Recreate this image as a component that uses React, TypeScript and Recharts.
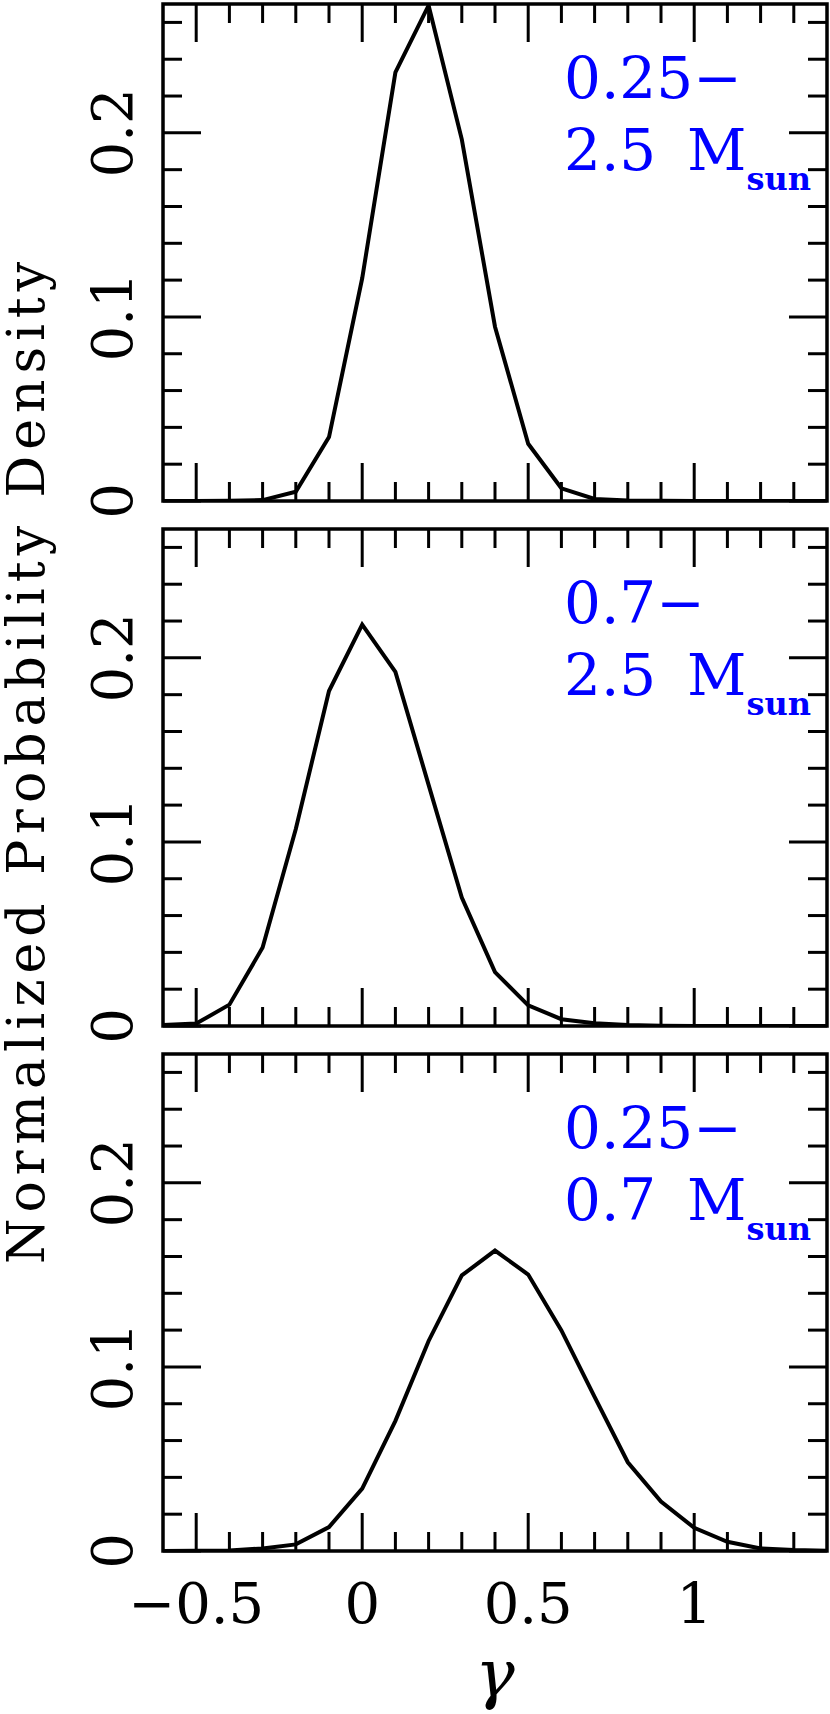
import React from "react";
import { LineChart, Line, XAxis, YAxis, ReferenceArea } from "recharts";

// gamma grid of the three curves
const gamma = [
  -0.6, -0.5, -0.4, -0.3, -0.2, -0.1, 0, 0.1, 0.2, 0.3, 0.4, 0.5, 0.6, 0.7,
  0.8, 0.9, 1.0, 1.1, 1.2, 1.3, 1.4,
];

// normalized probability density, one array per mass range
const density025to25 = [
  0, 0, 0.0001, 0.0005, 0.005, 0.0347, 0.121, 0.2328, 0.2692, 0.1965, 0.0947,
  0.0311, 0.0069, 0.0011, 0.0003, 0.0001, 0, 0, 0, 0, 0,
];
const density07to25 = [
  0.0006, 0.0013, 0.0116, 0.0426, 0.107, 0.182, 0.218, 0.1924, 0.131, 0.0698,
  0.0293, 0.0112, 0.0037, 0.0015, 0.0005, 0.0001, 0, 0, 0, 0, 0,
];
const density025to07 = [
  0, 0.0001, 0.0003, 0.0014, 0.0036, 0.013, 0.0339, 0.0707, 0.1141, 0.1497,
  0.1632, 0.1502, 0.1198, 0.0837, 0.0482, 0.0269, 0.0126, 0.005, 0.0014,
  0.0005, 0.0001,
];

const gammaTicks = [
  -0.5, -0.4, -0.3, -0.2, -0.1, 0, 0.1, 0.2, 0.3, 0.4, 0.5, 0.6, 0.7, 0.8, 0.9,
  1.0, 1.1, 1.2, 1.3,
];
const gammaMajorTicks = [-0.5, 0, 0.5, 1];
const gammaTickLabels = ["\u22120.5", "0", "0.5", "1"];

const densityTicks = [
  0, 0.02, 0.04, 0.06, 0.08, 0.1, 0.12, 0.14, 0.16, 0.18, 0.2, 0.22, 0.24, 0.26,
];
const densityMajorTicks = [0, 0.1, 0.2];
const densityTickLabels = ["0", "0.1", "0.2"];

const rangeLow = ["0.25\u2212", "0.7\u2212", "0.25\u2212"];
const rangeHigh = ["2.5", "2.5", "0.7"];

const PLOT_H = 497;
const PLOT_W = 664;
const AXIS_SIZE = 10;
const FONT = "'DejaVu Serif', serif";

const majorIndex = (v: number, majors: number[]) =>
  majors.findIndex((m) => Math.abs(m - v) < 1e-9);

function GammaTick(props: any) {
  const { x, y, payload, showLabel } = props;
  const idx = majorIndex(payload.value, gammaMajorTicks);
  const len = idx >= 0 ? 38 : 19;
  return (
    <g>
      <line x1={x} y1={y} x2={x} y2={y - len} stroke="#000" strokeWidth={3} />
      <line
        x1={x}
        y1={y - PLOT_H}
        x2={x}
        y2={y - PLOT_H + len}
        stroke="#000"
        strokeWidth={3}
      />
      {showLabel && idx >= 0 && (
        <text
          x={x}
          y={y + 72}
          textAnchor="middle"
          fontFamily={FONT}
          fontSize={56}
          fill="#000"
        >
          {gammaTickLabels[idx]}
        </text>
      )}
    </g>
  );
}

function DensityTick(props: any) {
  const { x, y, payload } = props;
  const idx = majorIndex(payload.value, densityMajorTicks);
  const len = idx >= 0 ? 38 : 19;
  return (
    <g>
      <line x1={x} y1={y} x2={x + len} y2={y} stroke="#000" strokeWidth={3} />
      <line
        x1={x + PLOT_W}
        y1={y}
        x2={x + PLOT_W - len}
        y2={y}
        stroke="#000"
        strokeWidth={3}
      />
      {idx >= 0 && (
        <text
          transform={`translate(${x - 31}, ${y}) rotate(-90)`}
          textAnchor="middle"
          fontFamily={FONT}
          fontSize={56}
          fill="#000"
        >
          {densityTickLabels[idx]}
        </text>
      )}
    </g>
  );
}

interface PanelProps {
  values: number[];
  top: number;
  marginTop: number;
  marginBottom: number;
  showX: boolean;
}

function Panel({ values, top, marginTop, marginBottom, showX }: PanelProps) {
  const data = gamma.map((g, i) => ({ g, p: values[i] }));
  return (
    <div style={{ position: "absolute", left: 0, top: top - marginTop }}>
      <LineChart
        width={830}
        height={marginTop + PLOT_H + marginBottom}
        data={data}
        style={{ overflow: "visible" }}
        margin={{
          top: marginTop,
          right: 3,
          bottom: marginBottom - AXIS_SIZE,
          left: 163 - AXIS_SIZE,
        }}
      >
        <XAxis
          dataKey="g"
          type="number"
          domain={[-0.6, 1.4]}
          ticks={gammaTicks}
          interval={0}
          height={AXIS_SIZE}
          axisLine={false}
          tickLine={false}
          tickSize={0}
          tickMargin={0}
          allowDataOverflow
          tick={(p: any) => <GammaTick {...p} showLabel={showX} />}
        />
        <YAxis
          type="number"
          domain={[0, 0.27]}
          ticks={densityTicks}
          interval={0}
          width={AXIS_SIZE}
          axisLine={false}
          tickLine={false}
          tickSize={0}
          tickMargin={0}
          allowDataOverflow
          tick={(p: any) => <DensityTick {...p} />}
        />
        <ReferenceArea
          x1={-0.6}
          x2={1.4}
          y1={0}
          y2={0.27}
          fill="#fff"
          fillOpacity={0}
          stroke="#000"
          strokeWidth={3.5}
        />
        <Line
          dataKey="p"
          type="linear"
          stroke="#000"
          strokeWidth={4}
          dot={false}
          activeDot={false}
          isAnimationActive={false}
        />
      </LineChart>
    </div>
  );
}

const panelTops = [4, 529, 1054];

export default function App() {
  return (
    <div
      style={{
        position: "absolute",
        left: 0,
        top: 0,
        width: 830,
        height: 1714,
        overflow: "hidden",
        background: "#fff",
      }}
    >
      <Panel values={density025to25} top={panelTops[0]} marginTop={4} marginBottom={40} showX={false} />
      <Panel values={density07to25} top={panelTops[1]} marginTop={30} marginBottom={40} showX={false} />
      <Panel values={density025to07} top={panelTops[2]} marginTop={30} marginBottom={163} showX={true} />
      <svg
        width={830}
        height={1714}
        style={{ position: "absolute", left: 0, top: 0, pointerEvents: "none" }}
      >
        <text
          transform="translate(44, 760) rotate(-90)"
          textAnchor="middle"
          fontFamily={FONT}
          fontSize={52}
          letterSpacing={6}
          fill="#000"
        >
          Normalized Probability Density
        </text>
        <text
          x={495}
          y={1696}
          textAnchor="middle"
          fontFamily={FONT}
          fontStyle="italic"
          fontSize={66}
          fill="#000"
        >
          γ
        </text>
        {panelTops.map((t, i) => (
          <g key={i} fontFamily={FONT} fill="#0000ff">
            <text x={564} y={t + 94} fontSize={58}>
              {rangeLow[i]}
            </text>
            <text x={564} y={t + 166} fontSize={58}>
              <tspan>{rangeHigh[i]}</tspan>
              <tspan x={687}>M</tspan>
              <tspan dy={20} fontSize={32} fontWeight="bold">
                sun
              </tspan>
            </text>
          </g>
        ))}
      </svg>
    </div>
  );
}
